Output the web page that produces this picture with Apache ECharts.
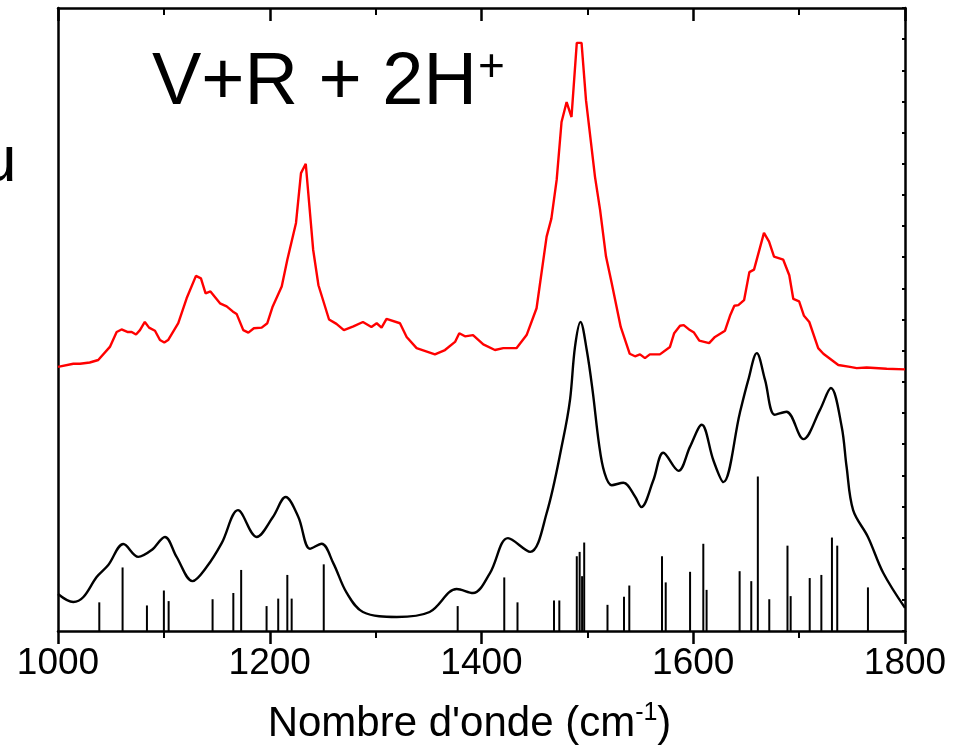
<!DOCTYPE html>
<html>
<head>
<meta charset="utf-8">
<script src="https://cdn.jsdelivr.net/npm/echarts@6/dist/echarts.min.js"></script>
<style>
  html, body { margin: 0; padding: 0; background: #fff; }
  #chart { width: 958px; height: 753px; }
</style>
</head>
<body>
<div id="chart"></div>
<script>
// Experimental spectrum (red)
const redX = [1000,1014.5,1020.8,1030,1038,1049,1055.4,1060,1065.5,1069.6,1073.7,1077.4,1082,1086,1091.6,1096.3,1100.4,1104,1113.6,1121.5,1130.3,1135,1139.4,1144,1153,1159.3,1165,1168.7,1175,1179.8,1185,1192.4,1197.7,1202.8,1211.3,1216.6,1224.8,1229.5,1234,1241,1246,1256,1263,1270,1279,1288,1296,1301,1305.6,1310.3,1323,1329.3,1338.7,1356,1365.5,1375,1379,1384.4,1392,1401.7,1412.7,1420.6,1433,1442.6,1452,1461.5,1466,1471,1475.6,1480.4,1485,1490,1494.5,1498.7,1507.2,1512,1517.6,1523,1531.5,1540,1545,1549.7,1554.4,1559,1568.5,1578,1582,1587.5,1591,1596.8,1600.7,1605.7,1615,1620.5,1630,1634.7,1638.8,1642.6,1648,1653,1657.4,1666.8,1671.6,1676.3,1685,1690.7,1694.5,1700,1704.6,1709.6,1718,1722.9,1737,1748,1754.4,1763.8,1782.7,1800];
const redY = [42.4,42.9,42.9,43.1,43.5,45.6,48.0,48.4,48.0,48.0,47.6,48.3,49.6,48.7,48.2,46.7,46.3,46.7,49.4,53.4,57.0,56.6,54.2,54.5,52.6,52.1,51.3,50.9,48.3,47.9,48.6,48.7,49.4,52.1,55.3,59.6,65.5,73.5,75.0,61.2,55.5,50.0,49.3,48.3,48.9,49.6,48.8,49.4,48.7,50.1,49.4,47.2,45.4,44.4,45.1,46.4,47.8,47.3,47.5,46.0,45.1,45.4,45.4,47.5,51.8,63.3,66.2,72.4,81.7,84.9,82.5,94.4,94.4,85.2,72.9,67.6,60.1,55.8,48.8,44.5,44.1,44.4,43.8,44.4,44.4,45.6,47.8,49.0,49.1,48.3,47.9,46.6,46.2,47.2,48.2,50.6,52.2,52.3,53.1,57.6,58.0,63.9,62.5,60.1,59.6,57.1,53.3,52.9,50.6,49.6,45.4,44.5,42.7,42.4,42.2,42.3,42.1,42.0];

// Calculated (broadened) spectrum (black)
const calcX = [1000,1014.5,1024,1036.5,1047.5,1061.7,1075.8,1088.5,1101,1112,1127,1140.5,1154.6,1170,1187.6,1203,1215,1227,1238,1249,1260,1272.7,1288,1320,1351,1376.6,1392,1408,1425,1446,1461.5,1477,1483.6,1488.3,1493.5,1499.4,1505,1511,1516,1523,1534,1545,1551,1562.3,1571.7,1586,1597,1608,1619,1628.4,1644,1652,1660,1667.8,1677,1688,1704,1719.7,1730,1740.2,1744.8,1751,1765,1779.5,1800];
const calcY = [5.94,4.65,5.46,8.67,10.6,13.96,11.9,13.0,15.1,11.9,8.0,10.3,14.1,19.4,15.1,18.3,21.5,18.3,13.2,14.0,10.9,6.1,3.05,2.25,3.05,6.74,6.1,9.3,14.9,12.7,18.9,30.7,37.1,45.6,49.6,45.1,38.5,30,25.5,23.4,23.8,21.6,19.9,24.2,28.6,25.7,29.6,33.1,27.4,23.9,35.0,40.3,44.6,40.3,34.7,35.2,30.8,35.5,39.0,32.8,26.4,19.4,15.1,9.3,3.7];

// Calculated stick spectrum
const stickX = [1039,1061,1084,1100,1104.5,1146,1165.6,1173,1197,1208,1216.6,1220.7,1251,1377.5,1421.5,1434,1468.5,1473.5,1490,1492.7,1495,1497,1519,1534.6,1539.6,1570.5,1574,1597,1609.5,1612.6,1643.8,1654.8,1661,1671.8,1689,1692,1710,1721,1731,1736,1765];
const stickY = [4.6,10.2,4.1,6.5,4.8,5.1,6.1,9.8,4.0,5.2,9.0,5.2,10.7,4.0,8.6,4.6,4.9,4.9,12.0,12.7,8.8,14.2,4.2,5.5,7.3,12.0,7.8,9.5,14.0,6.6,9.6,8.0,24.8,5.1,13.7,5.6,8.5,9.0,15.0,13.7,7.0];

const xTicks = [1000, 1200, 1400, 1600, 1800];
const titleText = 'V+R + 2H';
const titleSup = '+';
const xName = "Nombre d'onde (cm";
const xNameSup = '-1';

const zip = (a, b) => a.map((v, i) => [v, b[i]]);
const FONT = 'Liberation Sans, Arial, sans-serif';
const AX = { lineStyle: { color: '#000', width: 2.5 } };

const chart = echarts.init(document.getElementById('chart'), null, { renderer: 'canvas' });
chart.setOption({
  animation: false,
  backgroundColor: '#fff',
  grid: { left: 58, right: 53, top: 8, bottom: 122 },
  xAxis: [
    {
      type: 'value', position: 'bottom', min: 1000, max: 1800, interval: 200,
      axisLine: { show: true, onZero: false, ...AX },
      axisTick: { show: true, inside: false, length: 13, lineStyle: { color: '#000', width: 2.5 } },
      minorTick: { show: true, splitNumber: 2, length: 7, lineStyle: { color: '#000', width: 2 } },
      splitLine: { show: false },
      axisLabel: {
        show: true, margin: 14, color: '#000', fontSize: 37, fontFamily: FONT,
        showMinLabel: true, showMaxLabel: true,
        formatter: v => (xTicks.includes(v) ? String(v) : '')
      },
      name: '{a|' + xName + '}{s|' + xNameSup + '}{a|)}',
      nameLocation: 'middle', nameGap: 70,
      nameTextStyle: {
        color: '#000', fontFamily: FONT, padding: [0, 24, 0, 0],
        rich: {
          a: { fontSize: 42, fontFamily: FONT, color: '#000', lineHeight: 46 },
          s: { fontSize: 25, fontFamily: FONT, color: '#000', verticalAlign: 'top', lineHeight: 24 }
        }
      }
    },
    {
      type: 'value', position: 'top', min: 1000, max: 1800, interval: 200,
      axisLine: { show: true, onZero: false, ...AX },
      axisTick: { show: true, inside: true, length: 13, lineStyle: { color: '#000', width: 2.5 } },
      minorTick: { show: true, splitNumber: 2, length: 7, lineStyle: { color: '#000', width: 2 } },
      splitLine: { show: false },
      axisLabel: { show: false }
    }
  ],
  yAxis: [
    {
      type: 'value', position: 'left', min: 0, max: 100, interval: 5,
      axisLine: { show: true, onZero: false, ...AX },
      axisTick: { show: false }, axisLabel: { show: false }, splitLine: { show: false }
    },
    {
      type: 'value', position: 'right', min: 0, max: 100, interval: 5,
      axisLine: { show: true, onZero: false, ...AX },
      axisTick: { show: true, inside: true, length: 3, lineStyle: { color: '#000', width: 2 } },
      axisLabel: { show: false }, splitLine: { show: false }
    }
  ],
  series: [
    {
      name: 'sticks', type: 'custom', xAxisIndex: 0, yAxisIndex: 0,
      data: zip(stickX, stickY),
      encode: { x: 0, y: 1 },
      renderItem: (params, api) => {
        const p0 = api.coord([api.value(0), 0]);
        const p1 = api.coord([api.value(0), api.value(1)]);
        return {
          type: 'line',
          shape: { x1: p0[0], y1: p0[1], x2: p1[0], y2: p1[1] },
          style: { stroke: '#000', lineWidth: 2 }
        };
      },
      z: 3
    },
    {
      name: 'calc', type: 'line', xAxisIndex: 0, yAxisIndex: 0,
      data: zip(calcX, calcY), smooth: 0.35, showSymbol: false, symbol: 'none',
      lineStyle: { color: '#000', width: 2.4 }, z: 4
    },
    {
      name: 'exp', type: 'line', xAxisIndex: 0, yAxisIndex: 0,
      data: zip(redX, redY), smooth: false, showSymbol: false, symbol: 'none',
      lineStyle: { color: '#ff0000', width: 2.4 }, z: 5
    }
  ],
  graphic: [
    {
      type: 'text', left: 152, top: 47, z: 10,
      style: { text: titleText, font: '74px ' + FONT, fill: '#000' }
    },
    {
      type: 'text', left: 478, top: 45, z: 10,
      style: { text: titleSup, font: '46px ' + FONT, fill: '#000' }
    },
    {
      type: 'text', left: -19, top: 131, z: 10,
      style: { text: 'u', font: '64px ' + FONT, fill: '#000' }
    }
  ]
});
</script>
</body>
</html>
